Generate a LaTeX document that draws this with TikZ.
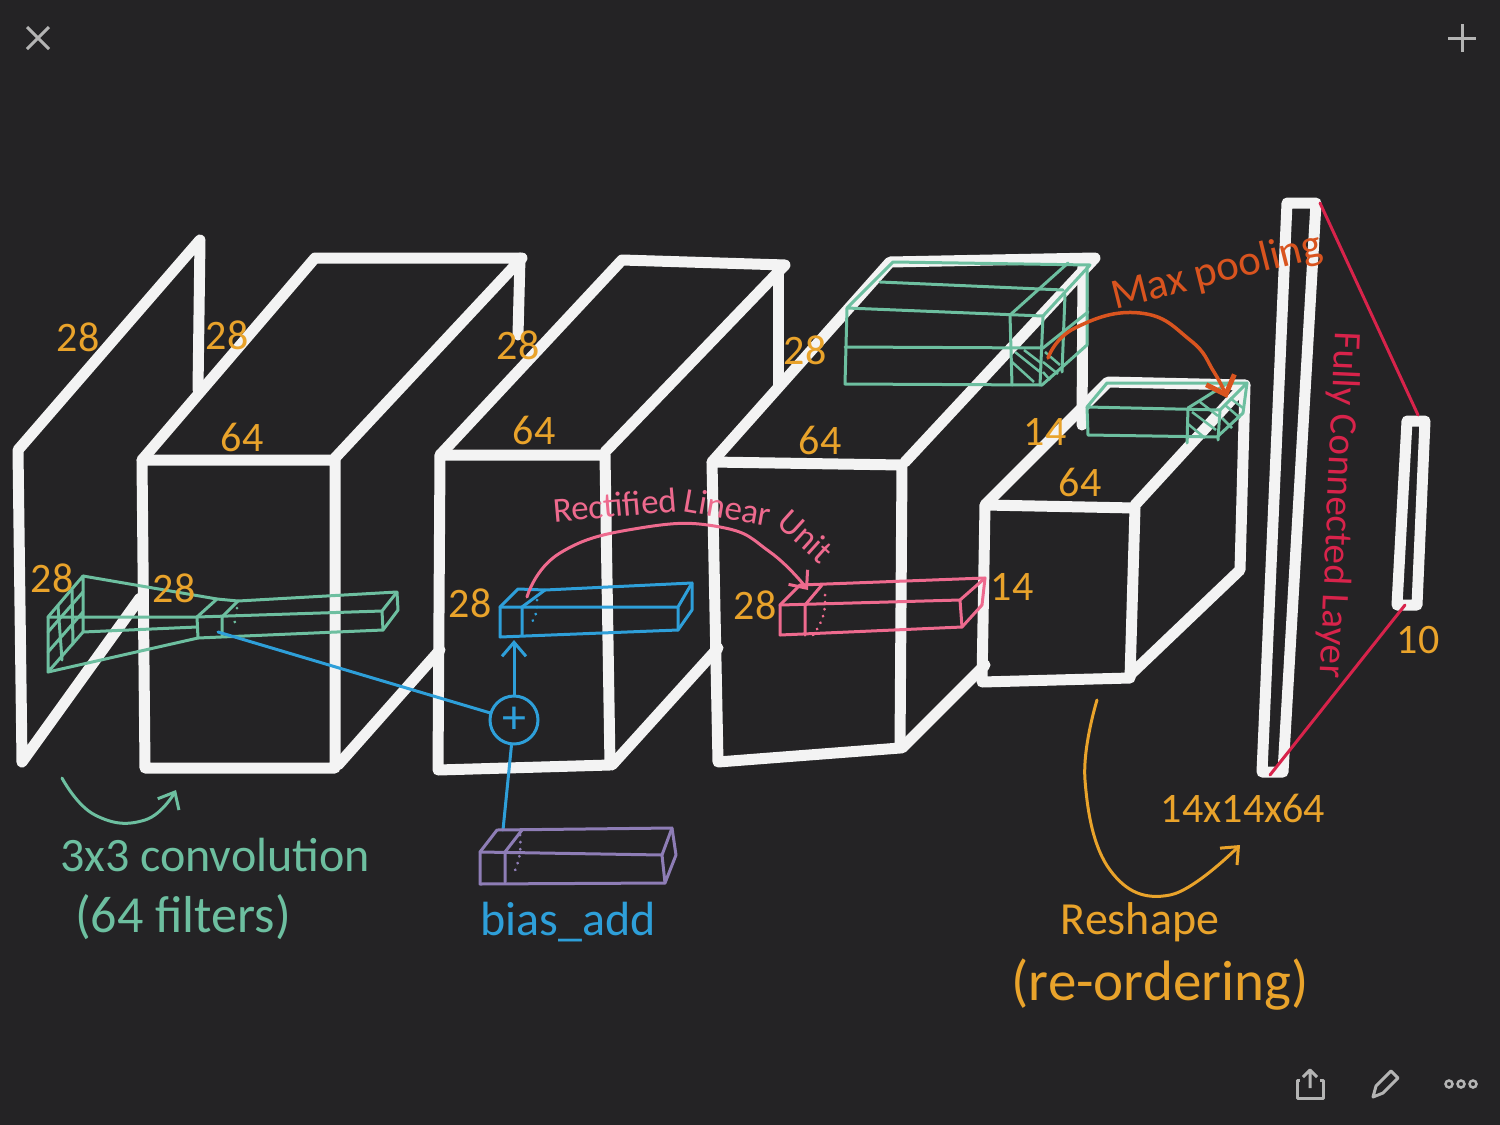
\documentclass[tikz,border=0pt]{standalone}
\usepackage{fontspec}
\setmainfont{Carlito}
\usetikzlibrary{arrows.meta}
\definecolor{boardbg}{HTML}{242325}
\definecolor{chalk}{HTML}{F3F3F3}
\definecolor{iconcol}{HTML}{B4B4B4}
\definecolor{amber}{HTML}{E9A32B}
\definecolor{mint}{HTML}{6DBFA0}
\definecolor{skyblue}{HTML}{2E9FD9}
\definecolor{rosepink}{HTML}{EE6A8E}
\definecolor{lilac}{HTML}{8E7DB6}
\definecolor{crimson}{HTML}{D8234B}
\definecolor{rust}{HTML}{D9541F}
\tikzset{
  chalkline/.style={draw=chalk,line width=11pt,line cap=round,line join=round},
  pen/.style={draw=#1,line width=3pt,line cap=round,line join=round},
  dotpen/.style={draw=#1,line width=3pt,line cap=round,dash pattern=on 0.1pt off 7pt},
  hatch/.style={draw=mint,line width=2.5pt},
  barb/.style={-{Straight Barb[length=14pt,width=24pt]}},
  dim/.style={text=amber,inner sep=0pt,font=\fontsize{42}{42}\selectfont},
  word/.style={text=#1,inner sep=0pt,font=\fontsize{48}{48}\selectfont},
}
\begin{document}
\begin{tikzpicture}[x=1pt,y=-1pt]
\useasboundingbox (0,0) rectangle (1500,1125);
\fill[boardbg] (0,0) rectangle (1500,1125);

\draw[chalkline] (198,390)--(200,240)--(18,450)--(22,762)--(140,598);
\draw[chalkline] (142,460)--(335,460)--(335,768)--(145,768)--cycle;
\draw[chalkline] (142,460)--(315,258)--(522,258)--(335,458);
\draw[chalkline] (520,258)--(518,335);
\draw[chalkline] (338,765)--(440,650);
\draw[chalkline] (440,455)--(605,455)--(610,765)--(438,770)--cycle;
\draw[chalkline] (440,455)--(622,260)--(785,265)--(605,452);
\draw[chalkline] (778,265)--(778,385);
\draw[chalkline] (612,765)--(718,648);
\draw[chalkline] (712,462)--(902,465)--(900,748)--(718,762)--cycle;
\draw[chalkline] (712,462)--(890,262)--(1095,258)--(905,462);
\draw[chalkline] (1083,265)--(1082,425);
\draw[chalkline] (902,748)--(985,665);
\draw[chalkline] (985,505)--(1135,508)--(1130,678)--(982,682)--cycle;
\draw[chalkline] (985,505)--(1108,382)--(1245,385)--(1135,505);
\draw[chalkline] (1245,385)--(1240,570)--(1130,675);
\draw[chalkline] (1287,203)--(1262,772)--(1283,772)--(1316,203)--cycle;
\draw[chalkline] (1407,421)--(1397,605)--(1417,605)--(1425,421)--cycle;

\draw[pen=crimson] (1320,203)--(1418,415);
\draw[pen=crimson] (1270,775)--(1405,605);

\draw[pen=mint] (48,617)--(83,576)--(83,632)--(48,672)--cycle;
\draw[pen=mint] (58,606)--(62,660) (72,590)--(73,644);
\draw[pen=mint] (48,632)--(83,592) (48,652)--(83,612);
\draw[pen=mint] (83,576)--(217,599) (48,672)--(198,638) (48,617)--(197,617) (83,632)--(197,627);
\draw[pen=mint] (197,617)--(217,599)--(238,601)--(397,592)--(398,610)--(383,630)--(198,638)--cycle;
\draw[pen=mint] (197,617)--(382,611)--(383,630) (382,611)--(397,592);
\draw[pen=mint] (222,617)--(222,636) (222,617)--(238,601);
\draw[dotpen=mint] (237,608) to[bend left=15] (232,628);

\draw[pen=mint] (847,308)--(893,262)--(1090,265)--(1043,316)--cycle;
\draw[pen=mint] (847,308)--(845,384)--(1042,385)--(1087,345)--(1087,267);
\draw[pen=mint] (845,347)--(1043,348)--(1088,312);
\draw[pen=mint] (880,282)--(1063,290);
\draw[pen=mint] (1010,315)--(1012,385) (1043,316)--(1040,385) (1065,295)--(1062,372);
\draw[pen=mint] (1010,315)--(1068,263);
\draw[hatch] (1015,352)--(1040,372) (1012,362)--(1034,382) (1024,350)--(1041,363);
\draw[hatch] (1045,352)--(1060,365) (1043,362)--(1058,374) (1043,372)--(1050,380);

\draw[pen=mint] (1087,407)--(1107,383)--(1247,383)--(1220,410)--cycle;
\draw[pen=mint] (1087,407)--(1088,435)--(1217,437)--(1243,413)--(1247,383);
\draw[pen=mint] (1188,408)--(1187,443) (1220,410)--(1218,440) (1188,408)--(1228,383);
\draw[hatch] (1192,412)--(1216,430) (1200,402)--(1218,416) (1188,424)--(1205,438);
\draw[hatch] (1225,405)--(1240,418) (1222,418)--(1232,428) (1230,398)--(1243,408);

\node[draw=skyblue,line width=3pt,circle,minimum size=48pt,inner sep=0pt,text=skyblue,font=\fontsize{48}{48}\selectfont] (adder) at (514,720) {+};
\coordinate (bluefoot) at (514,640);
\coordinate (greenfoot) at (218,632);
\coordinate (purpletop) at (503,830);

\draw[pen=skyblue] (500,607)--(518,589)--(545,590)--(692,583)--(692,610)--(678,630)--(500,637)--cycle;
\draw[pen=skyblue] (500,607)--(678,607)--(678,630) (678,607)--(692,583);
\draw[pen=skyblue] (522,607)--(522,635) (522,607)--(545,590);
\draw[dotpen=skyblue] (537,600) to[bend left=20] (530,625);
\draw[pen=skyblue,barb] (adder)--(bluefoot);
\draw[pen=skyblue] (greenfoot)--(adder);
\draw[pen=skyblue] (purpletop)--(adder);

\draw[pen=lilac] (480,852)--(497,830)--(672,828)--(676,855)--(665,883)--(480,884)--cycle;
\draw[pen=lilac] (480,852)--(662,855)--(665,883) (662,855)--(672,828);
\draw[pen=lilac] (505,852)--(505,882) (505,852)--(522,830);
\draw[dotpen=lilac] (520,835) to[bend left=15] (513,875);

\draw[pen=rosepink] (780,605)--(800,585)--(985,578)--(982,605)--(962,627)--(780,635)--cycle;
\draw[pen=rosepink] (780,605)--(960,600)--(962,627) (960,600)--(985,578);
\draw[pen=rosepink] (805,605)--(805,635) (805,605)--(822,585);
\draw[dotpen=rosepink] (825,595) to[bend left=20] (813,635);
\draw[pen=rosepink,barb] plot[smooth,tension=0.8] coordinates {(527,597) (560,553) (640,528) (720,527) (770,552) (808,590)};

\draw[draw=rust,line width=3.5pt,line cap=round,-{Straight Barb[length=16pt,width=30pt,line width=5pt]}] plot[smooth,tension=0.8] coordinates {(1048,358) (1075,328) (1140,313) (1190,340) (1214,372) (1227,398)};
\draw[pen=mint,barb] plot[smooth,tension=0.8] coordinates {(62,778) (95,815) (145,820) (176,790)};
\draw[pen=amber,barb] plot[smooth,tension=0.7] coordinates {(1097,700) (1085,780) (1110,870) (1170,895) (1240,845)};

\node[dim] (dimA) at (78,337) {28};
\node[dim] (dimB) at (227,335) {28};
\node[dim] (dimC) at (518,345) {28};
\node[dim] (dimD) at (805,350) {28};
\node[dim] (dimE) at (52,578) {28};
\node[dim] (dimF) at (174,588) {28};
\node[dim] (dimG) at (470,603) {28};
\node[dim] (dimH) at (755,605) {28};
\node[dim] (depthA) at (242,437) {64};
\node[dim] (depthB) at (534,430) {64};
\node[dim] (depthC) at (820,440) {64};
\node[dim] (depthD) at (1080,482) {64};
\node[dim] (halfA) at (1045,432) {14};
\node[dim] (halfB) at (1012,587) {14};
\node[dim] (classes) at (1418,640) {10};
\node[dim] (flat) at (1243,808) {14x14x64};

\node[word=mint] (convA) at (215,855) {3x3 convolution};
\node[word=mint,font=\fontsize{52}{52}\selectfont] (convB) at (183,917) {(64 filters)};
\node[word=skyblue] (biaslabel) at (568,922) {bias\_add};
\node[word=amber,font=\fontsize{46}{46}\selectfont] (reshapeA) at (1140,922) {Reshape};
\node[word=amber,font=\fontsize{57}{57}\selectfont] (reshapeB) at (1160,985) {(re-ordering)};
\node[word=rust,rotate=14,font=\fontsize{43}{43}\selectfont] (poollabel) at (1217,272) {Max pooling};
\node[word=crimson,rotate=-92.5,font=\fontsize{39}{39}\selectfont] (fclabel) at (1338,505) {Fully Connected Layer};
\node[word=rosepink,rotate=5,font=\fontsize{35}{35}\selectfont] (relulabelA) at (615,505) {Rectified};
\node[word=rosepink,rotate=-10,font=\fontsize{35}{35}\selectfont] (relulabelB) at (728,507) {Linear};
\node[word=rosepink,rotate=-42,font=\fontsize{35}{35}\selectfont] (relulabelC) at (806,536) {Unit};

\draw[draw=iconcol,line width=3pt] (27,27)--(49,49) (49,27)--(27,49);
\draw[draw=iconcol,line width=3pt] (1462,24)--(1462,52) (1448,38)--(1476,38);
\draw[draw=iconcol,line width=3pt,line join=round] (1300,1080)--(1297,1080)--(1297,1098)--(1323,1098)--(1323,1080)--(1320,1080);
\draw[draw=iconcol,line width=3pt,line join=round] (1310,1088)--(1310,1070) (1303,1077)--(1310,1070)--(1317,1077);
\draw[draw=iconcol,line width=3pt,line join=round] (1373,1097)--(1376,1086)--(1391,1071)--(1398,1078)--(1383,1093)--cycle;
\foreach \dotx in {1449,1461,1473} \draw[draw=iconcol,line width=2.5pt] (\dotx,1084) circle (3.5pt);
\end{tikzpicture}
\end{document}
